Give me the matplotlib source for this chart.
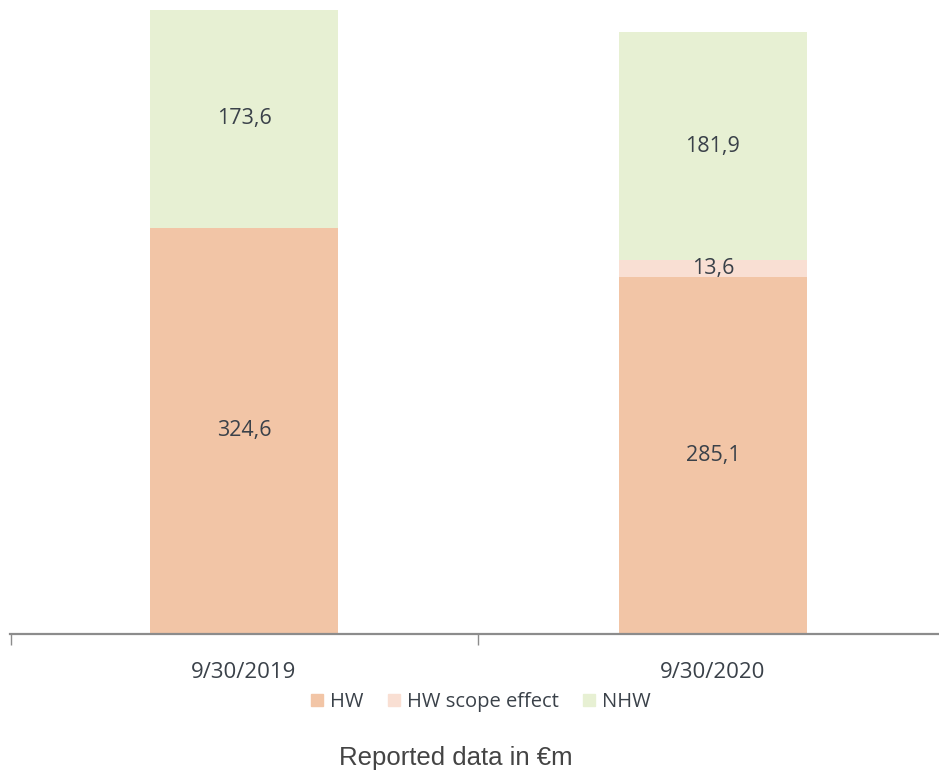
import numpy as np
import matplotlib.pyplot as plt
from matplotlib.patches import Patch

categories = ['9/30/2019', '9/30/2020']
hw = [324.6, 285.1]
hw_scope = [0.0, 13.6]
nhw = [173.6, 181.9]

c_hw = '#F2C5A6'
c_scope = '#F9DFD3'
c_nhw = '#E7F0D3'
txt = '#3A4149'

fig = plt.figure(figsize=(9.39, 7.84), dpi=100)
ax = fig.add_axes([10/939, 1 - 634/784, 929/939, 626/784])

x = np.arange(len(categories))
w = 0.4
ax.bar(x, hw, w, color=c_hw)
ax.bar(x, hw_scope, w, bottom=hw, color=c_scope)
b2 = np.array(hw) + np.array(hw_scope)
ax.bar(x, nhw, w, bottom=b2, color=c_nhw)

def fmt(v):
    return f'{v:.1f}'.replace('.', ',')

# segment labels
for i in range(len(categories)):
    ax.text(x[i], hw[i] / 2, fmt(hw[i]), ha='center', va='center',
            fontsize=15.5, color=txt, family='Open Sans')
    if hw_scope[i] > 0:
        ax.text(x[i], hw[i] + hw_scope[i] / 2, fmt(hw_scope[i]),
                ha='center', va='center', fontsize=15.5, color=txt, family='Open Sans')
    ax.text(x[i], b2[i] + nhw[i] / 2, fmt(nhw[i]), ha='center', va='center',
            fontsize=15.5, color=txt, family='Open Sans')

ax.set_xlim(-0.499, 1.482)
ax.set_ylim(0, 500)
for s in ['top', 'right', 'left']:
    ax.spines[s].set_visible(False)
ax.spines['bottom'].set_color('#8C8C8C')
ax.spines['bottom'].set_linewidth(1.6)
ax.set_yticks([])
ax.set_xticks(x)
ax.set_xticklabels(categories, fontsize=16, color=txt, family='Open Sans')
ax.tick_params(axis='x', which='major', length=0, pad=20)
ax.set_xticks([-0.497, 0.5], minor=True)
ax.tick_params(axis='x', which='minor', length=8, color='#8C8C8C', width=1)

handles = [Patch(color=c_hw, label='HW'), Patch(color=c_scope, label='HW scope effect'),
           Patch(color=c_nhw, label='NHW')]
leg = fig.legend(handles=handles, loc='center', bbox_to_anchor=(481/939, 1 - 702/784), ncol=3,
                 frameon=False, prop={'family': 'Open Sans', 'size': 14.5},
                 handlelength=0.6, handleheight=0.6, handletextpad=0.35, columnspacing=1.2)
for t in leg.get_texts():
    t.set_color(txt)

fig.text(456/939, 1 - 758/784, 'Reported data in €m', ha='center', va='center',
         fontsize=18.5, color='#444444', family='Liberation Sans')

fig.savefig('out.png', dpi=100)
